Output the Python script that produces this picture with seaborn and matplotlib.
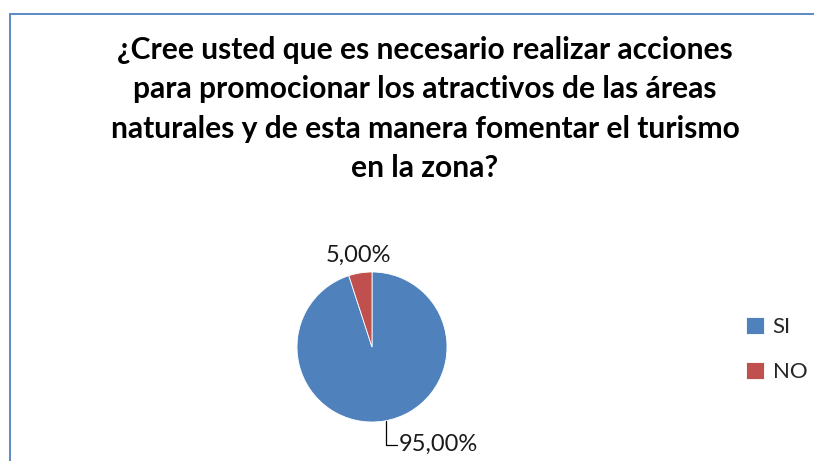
import matplotlib
matplotlib.use("Agg")
import matplotlib.pyplot as plt
import seaborn as sns
from matplotlib.patches import Rectangle

# Data
categories = ["SI", "NO"]
values = [95.0, 5.0]
colors = ["#4F81BD", "#C0504D"]
title = ("¿Cree usted que es necesario realizar acciones\n"
         "para promocionar los atractivos de las áreas\n"
         "naturales y de esta manera fomentar el turismo\n"
         "en la zona?")

sns.set_theme(style="white")
plt.rcParams["font.family"] = ["Lato", "DejaVu Sans"]

W, H = 814, 461
fig = plt.figure(figsize=(W / 100, H / 100), dpi=100)
fig.patch.set_facecolor("white")

# chart border (runs off the right and bottom edges)
fig.patches.append(Rectangle((10 / W, -0.1), 1.1, 1 - 14 / H + 0.1,
                             transform=fig.transFigure, fill=False,
                             edgecolor="#4F81BD", linewidth=1.3))

fig.text(0.5 * (115 + 735) / W, 1 - 36 / H, title, ha="center", va="top",
         fontsize=21.6, fontweight="bold", linespacing=1.49, color="black")

# pie axes: radius 1 == 75 px, centred at (372, 347)
R = 75
cx, cy = 372, 347
half = 2 * R
ax = fig.add_axes([(cx - half) / W, (H - cy - half) / H, 2 * half / W, 2 * half / H])

wedges, _ = ax.pie(values, colors=colors, startangle=90, counterclock=False,
                   radius=1, wedgeprops=dict(linewidth=0.6, edgecolor="white"))
ax.set_xlim(-2, 2)
ax.set_ylim(-2, 2)
ax.axis("off")

labels = [f"{v:.2f}%".replace(".", ",") for v in values]
ax.text(-0.18, 1.22, labels[1], ha="center", va="center", fontsize=17, color="#1a1a1a")
ax.text(0.35, -1.30, labels[0], ha="left", va="center", fontsize=17, color="#1a1a1a")
ax.plot([0.18, 0.18, 0.33], [-0.99, -1.30, -1.30], color="black", lw=0.9, clip_on=False)

leg = fig.legend(wedges, categories, loc="upper left",
                 bbox_to_anchor=(726 / W, 1 - 297 / H), frameon=False,
                 fontsize=16, handlelength=0.8, handleheight=0.8,
                 handletextpad=0.4, labelspacing=1.1)

fig.savefig("out.png", dpi=100)
